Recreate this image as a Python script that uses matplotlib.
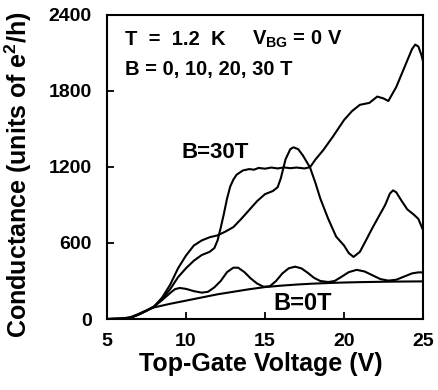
import matplotlib
matplotlib.use("Agg")
import matplotlib.pyplot as plt

plt.rcParams['font.family'] = ['Liberation Sans', 'DejaVu Sans']
plt.rcParams['font.weight'] = 'bold'
plt.rcParams['mathtext.fontset'] = 'custom'
plt.rcParams['mathtext.rm'] = 'Liberation Sans:bold'
plt.rcParams['mathtext.bf'] = 'Liberation Sans:bold'
plt.rcParams['mathtext.default'] = 'bf'

# B = 0 T
v_b0 = [5, 6, 6.5, 7, 7.5, 8, 9, 10, 11, 12, 13, 14, 15, 16, 17, 18, 19, 20,
        21, 22, 23, 24, 25]
g_b0 = [0, 5, 15, 40, 68, 92, 120, 145, 170, 195, 215, 235, 252, 263, 272,
        279, 284, 288, 291, 293, 295, 296, 297]

# B = 10 T
v_b10 = [5, 6, 6.5, 7, 7.5, 8, 8.5, 9, 9.3, 9.6, 10, 10.5, 11, 11.4, 11.8,
         12.2, 12.6, 13.0, 13.3, 13.7, 14.1, 14.5, 14.9, 15.3, 15.7, 16.1,
         16.5, 16.9, 17.3, 17.7, 18.1, 18.5, 19.0, 19.4, 19.8, 20.3, 20.8,
         21.3, 21.8, 22.3, 22.8, 23.3, 23.8, 24.3, 24.7, 25]
g_b10 = [0, 3, 10, 35, 65, 100, 150, 205, 235, 245, 238, 220, 208, 215, 250,
         300, 370, 405, 405, 370, 320, 280, 255, 258, 300, 360, 400, 413, 400,
         365, 325, 300, 292, 300, 330, 370, 388, 375, 345, 315, 303, 310, 335,
         360, 368, 368]

# B = 20 T
v_b20 = [5, 6, 6.5, 7, 7.5, 8, 8.5, 9, 9.5, 10, 10.5, 11, 11.5, 12, 12.5, 13,
         13.5, 14, 14.5, 15, 15.5, 15.8, 16, 16.3, 16.6, 16.8, 17.1, 17.4,
         17.85, 18.2, 18.5, 19.0, 19.5, 20.0, 20.3, 20.6, 21.0, 21.3, 21.8,
         22.2, 22.6, 22.9, 23.1, 23.3, 23.6, 24.0, 24.4, 24.7, 25]
g_b20 = [0, 3, 10, 35, 65, 100, 170, 270, 400, 500, 580, 620, 645, 660, 690,
         725, 790, 860, 930, 985, 1010, 1040, 1110, 1260, 1340, 1355, 1340,
         1290, 1195, 1070, 950, 790, 650, 580, 520, 490, 530, 600, 720, 810,
         900, 990, 1015, 1000, 940, 865, 825, 790, 700]

# B = 30 T
v_b30 = [5, 6, 6.5, 7, 7.5, 8, 8.5, 9, 9.5, 10, 10.5, 11, 11.5, 11.8, 12,
         12.2, 12.4, 12.6, 12.8, 13.0, 13.2, 13.6, 14, 14.3, 14.6, 15, 15.4,
         15.8, 16.2, 16.6, 17, 17.5, 17.85, 18.2, 18.7, 19.3, 20, 20.5, 21,
         21.6, 22.1, 22.5, 22.8, 23.3, 23.6, 24, 24.3, 24.5, 24.7, 24.9, 25]
g_b30 = [0, 3, 10, 35, 65, 100, 160, 235, 330, 400, 460, 505, 530, 560, 620,
         720, 830, 950, 1045, 1100, 1138, 1172, 1183, 1178, 1192, 1186, 1195,
         1188, 1196, 1190, 1195, 1188, 1198, 1260, 1335, 1440, 1570, 1640,
         1690, 1705, 1755, 1740, 1720, 1830, 1920, 2040, 2130, 2165, 2150,
         2080, 2030]

xticks = [5, 10, 15, 20, 25]
yticks = [0, 600, 1200, 1800, 2400]

fig = plt.figure(figsize=(4.38, 3.9), dpi=100)
ax = fig.add_axes([0.244, 0.182, 0.722, 0.780])

for v, g in [(v_b0, g_b0), (v_b10, g_b10), (v_b20, g_b20), (v_b30, g_b30)]:
    ax.plot(v, g, color='black', lw=1.5)

ax.set_xlim(5, 25)
ax.set_ylim(0, 2400)
ax.set_xticks(xticks)
ax.set_yticks(yticks)
ax.tick_params(direction='in', length=5, width=1.3, labelsize=14)
ax.tick_params(axis='x', pad=10)
ax.tick_params(axis='y', pad=11)
for s in ax.spines.values():
    s.set_linewidth(1.5)

ax.set_xlabel("Top-Gate Voltage (V)", fontsize=18, fontweight='bold')
ax.set_ylabel("Conductance (units of e$^2$/h)", fontsize=18, fontweight='bold')
ax.xaxis.set_label_coords(0.487, -0.109)
ax.yaxis.set_label_coords(-0.231, 0.474)

ax.text(0.057, 0.901, "T  =  1.2  K", transform=ax.transAxes,
        fontsize=14.5, fontweight='bold')
ax.text(0.459, 0.901, "V$_{BG}$ = 0 V", transform=ax.transAxes,
        fontsize=14.5, fontweight='bold')
ax.text(0.057, 0.803, "B = 0, 10, 20, 30 T", transform=ax.transAxes,
        fontsize=14.5, fontweight='bold')
ax.text(9.73, 1272, "B=30T", fontsize=16, fontweight='bold')
ax.text(15.5, 71, "B=0T", fontsize=17, fontweight='bold')

fig.savefig("out.png", dpi=100)
